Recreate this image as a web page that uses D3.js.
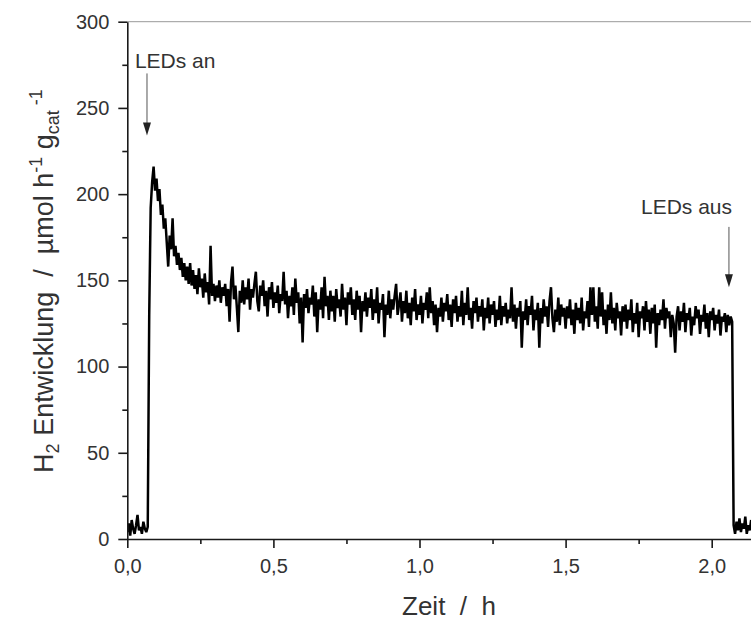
<!DOCTYPE html>
<html>
<head>
<meta charset="utf-8">
<script src="https://cdn.jsdelivr.net/npm/d3@7/dist/d3.min.js"></script>
<style>
  html, body { margin: 0; padding: 0; background: #fff; }
  svg { display: block; font-family: "Liberation Sans", Arial, sans-serif; }
</style>
</head>
<body>
<svg id="chart" width="751" height="622"></svg>
<script>
// ---- data ----
const timeStart = 0;       // h
const sampleStep = 0.005;  // h, sampling interval of the measurement
const h2Rate = [
  // 0.000 - 0.095
  4, 9, 2, 11, 6, 3, 8, 14, 5, 7, 3, 10, 6, 4, 7, 130, 192, 207, 216, 202,
  // 0.100 - 0.195
  209, 196, 203, 188, 194, 180, 186, 172, 158, 176, 168, 186, 164, 170, 159, 166, 156, 163, 152, 160,
  // 0.200 - 0.295
  150, 158, 148, 160, 147, 156, 145, 153, 142, 157, 146, 151, 140, 154, 143, 149, 136, 170, 141, 148,
  // 0.300 - 0.395
  138, 147, 140, 150, 137, 146, 141, 148, 135, 145, 126, 149, 158, 139, 147, 134, 120, 144, 137, 150,
  // 0.400 - 0.495
  136, 146, 139, 151, 133, 145, 140, 148, 155, 138, 132, 147, 141, 150, 135, 144, 129, 146, 139, 149,
  // 0.500 - 0.595
  134, 143, 137, 147, 131, 142, 138, 155, 136, 144, 128, 141, 135, 146, 130, 151, 137, 143, 125, 140,
  // 0.600 - 0.695
  114, 142, 134, 145, 131, 140, 136, 147, 129, 143, 120, 139, 133, 146, 128, 152, 135, 141, 127, 144,
  // 0.700 - 0.795
  132, 141, 126, 145, 134, 139, 129, 148, 133, 140, 124, 143, 136, 146, 130, 139, 127, 144, 133, 141,
  // 0.800 - 0.895
  120, 138, 132, 143, 129, 140, 134, 145, 127, 139, 131, 146, 125, 137, 133, 142, 117, 136, 130, 144,
  // 0.900 - 0.995
  128, 139, 133, 141, 148, 130, 136, 143, 126, 138, 131, 144, 128, 137, 124, 140, 132, 145, 127, 136,
  // 1.000 - 1.095
  130, 141, 125, 137, 133, 143, 128, 146, 131, 138, 124, 136, 120, 134, 129, 140, 126, 137, 132, 142,
  // 1.100 - 1.195
  127, 136, 123, 139, 131, 141, 126, 135, 129, 144, 124, 137, 130, 146, 127, 134, 122, 138, 131, 140,
  // 1.200 - 1.295
  126, 135, 129, 139, 121, 134, 128, 140, 125, 136, 130, 138, 123, 133, 127, 141, 124, 135, 129, 137,
  // 1.300 - 1.395
  125, 133, 128, 146, 126, 136, 122, 134, 129, 138, 111, 132, 127, 139, 124, 135, 130, 141, 121, 133,
  // 1.400 - 1.495
  127, 137, 111, 134, 125, 139, 129, 135, 123, 138, 146, 128, 120, 133, 126, 140, 124, 136, 129, 134,
  // 1.500 - 1.595
  122, 135, 128, 139, 124, 133, 119, 137, 127, 134, 125, 140, 121, 132, 128, 138, 123, 146, 130, 146,
  // 1.600 - 1.695
  126, 135, 122, 146, 129, 143, 124, 133, 119, 136, 127, 143, 125, 134, 121, 137, 128, 132, 118, 135,
  // 1.700 - 1.795
  126, 136, 122, 133, 127, 139, 120, 131, 125, 137, 117, 132, 128, 135, 121, 138, 126, 133, 119, 134,
  // 1.800 - 1.895
  125, 136, 111, 131, 124, 133, 127, 139, 122, 134, 128, 132, 117, 130, 125, 108, 129, 135, 121, 132,
  // 1.900 - 1.995
  126, 137, 120, 131, 127, 134, 118, 129, 124, 135, 128, 133, 119, 130, 126, 136, 122, 131, 117, 132,
  // 2.000 - 2.095
  127, 134, 121, 130, 125, 133, 118, 129, 126, 131, 120, 130, 124, 129, 126, 8, 3, 10, 5, 12,
  // 2.100 - 2.135
  4, 9, 6, 13, 3, 8, 5, 11
];
const xTicksMajor = [0, 0.5, 1.0, 1.5, 2.0];
const xTicksMinor = [0.25, 0.75, 1.25, 1.75];
const yTicksMajor = [0, 50, 100, 150, 200, 250, 300];
const yTicksMinor = [25, 75, 125, 175, 225, 275];
const annotations = [
  { label: "LEDs an",  t: 0.0674, textT: 0.026, yText: 273, yFrom: 270, yTo: 234 },
  { label: "LEDs aus", t: 2.059,  textT: 1.758, yText: 188.5, yFrom: 181, yTo: 146 }
];
const xTitle = "Zeit  /  h";

// ---- layout ----
const svg = d3.select("#chart");
const W = 751, H = 622;
const mLeft = 127.3, mTop = 21.7, mBottom = 539;
const xMax = 2.2;
const x = d3.scaleLinear().domain([0, xMax]).range([mLeft, mLeft + 292.2 * xMax]);
const y = d3.scaleLinear().domain([0, 300]).range([mBottom, mTop]);

const fmt = v => d3.format(".1f")(v).replace(".", ",");
const textColor = "#333";
const axisColor = "#1a1a1a";

svg.append("defs").append("clipPath").attr("id", "plotclip")
  .append("rect").attr("x", mLeft).attr("y", mTop - 2).attr("width", W - mLeft).attr("height", mBottom - mTop + 2);

// top frame
svg.append("line").attr("x1", mLeft).attr("x2", W).attr("y1", mTop).attr("y2", mTop)
  .attr("stroke", "#999").attr("stroke-width", 1);

// data line
const data = h2Rate.map((v, i) => ({ t: timeStart + i * sampleStep, v }));
svg.append("path")
  .datum(data)
  .attr("clip-path", "url(#plotclip)")
  .attr("fill", "none")
  .attr("stroke", "#000")
  .attr("stroke-width", 2.5)
  .attr("stroke-linejoin", "miter")
  .attr("stroke-miterlimit", 3)
  .attr("d", d3.line().x(d => x(d.t)).y(d => y(d.v)));

// axes
function styleAxis(g) {
  g.select(".domain").attr("stroke", axisColor).attr("stroke-width", 1.6);
  g.selectAll(".tick line").attr("stroke", axisColor).attr("stroke-width", 1.6);
  g.selectAll(".tick text").attr("fill", textColor).attr("font-size", 20)
    .attr("font-family", "Liberation Sans, Arial, sans-serif");
}
const gx = svg.append("g").attr("transform", `translate(0,${mBottom})`)
  .call(d3.axisBottom(x).tickValues(xTicksMajor).tickSize(9).tickPadding(11).tickFormat(fmt).tickSizeOuter(0));
styleAxis(gx);
const gxm = svg.append("g").attr("transform", `translate(0,${mBottom})`)
  .call(d3.axisBottom(x).tickValues(xTicksMinor).tickSize(5).tickFormat(""));
styleAxis(gxm);

const gy = svg.append("g").attr("transform", `translate(${mLeft},0)`)
  .call(d3.axisLeft(y).tickValues(yTicksMajor).tickSize(9).tickPadding(9).tickSizeOuter(0));
styleAxis(gy);
const gym = svg.append("g").attr("transform", `translate(${mLeft},0)`)
  .call(d3.axisLeft(y).tickValues(yTicksMinor).tickSize(5).tickFormat(""));
styleAxis(gym);
gym.select(".domain").remove();
gxm.select(".domain").remove();

// x title
svg.append("text")
  .attr("x", 449).attr("y", 615)
  .attr("text-anchor", "middle")
  .attr("fill", textColor)
  .attr("font-size", 26)
  .style("white-space", "pre")
  .text(xTitle);

// y title
const yt = svg.append("text")
  .attr("transform", "translate(53,281) rotate(-90)")
  .attr("text-anchor", "middle")
  .attr("fill", textColor)
  .attr("font-size", 27)
  .style("white-space", "pre");
yt.append("tspan").text("H");
yt.append("tspan").attr("font-size", 18).attr("dy", 6).text("2");
yt.append("tspan").attr("dy", -6).text(" Entwicklung  /  µmol h");
yt.append("tspan").attr("font-size", 18).attr("dy", -11).text("-1");
yt.append("tspan").attr("dy", 11).text(" g");
yt.append("tspan").attr("font-size", 18).attr("dy", 6).text("cat");
yt.append("tspan").attr("font-size", 18).attr("dy", -17).text(" -1");

// annotations
const ann = svg.append("g");
annotations.forEach(a => {
  ann.append("text")
    .attr("x", x(a.textT)).attr("y", y(a.yText))
    .attr("fill", textColor).attr("font-size", 21)
    .text(a.label);
  const ax = x(a.t);
  ann.append("line")
    .attr("x1", ax).attr("x2", ax)
    .attr("y1", y(a.yFrom)).attr("y2", y(a.yTo) - 10)
    .attr("stroke", "#555").attr("stroke-width", 1);
  ann.append("path")
    .attr("d", `M${ax - 4},${y(a.yTo) - 13} L${ax + 4},${y(a.yTo) - 13} L${ax},${y(a.yTo)} Z`)
    .attr("fill", "#222");
});
</script>
</body>
</html>
